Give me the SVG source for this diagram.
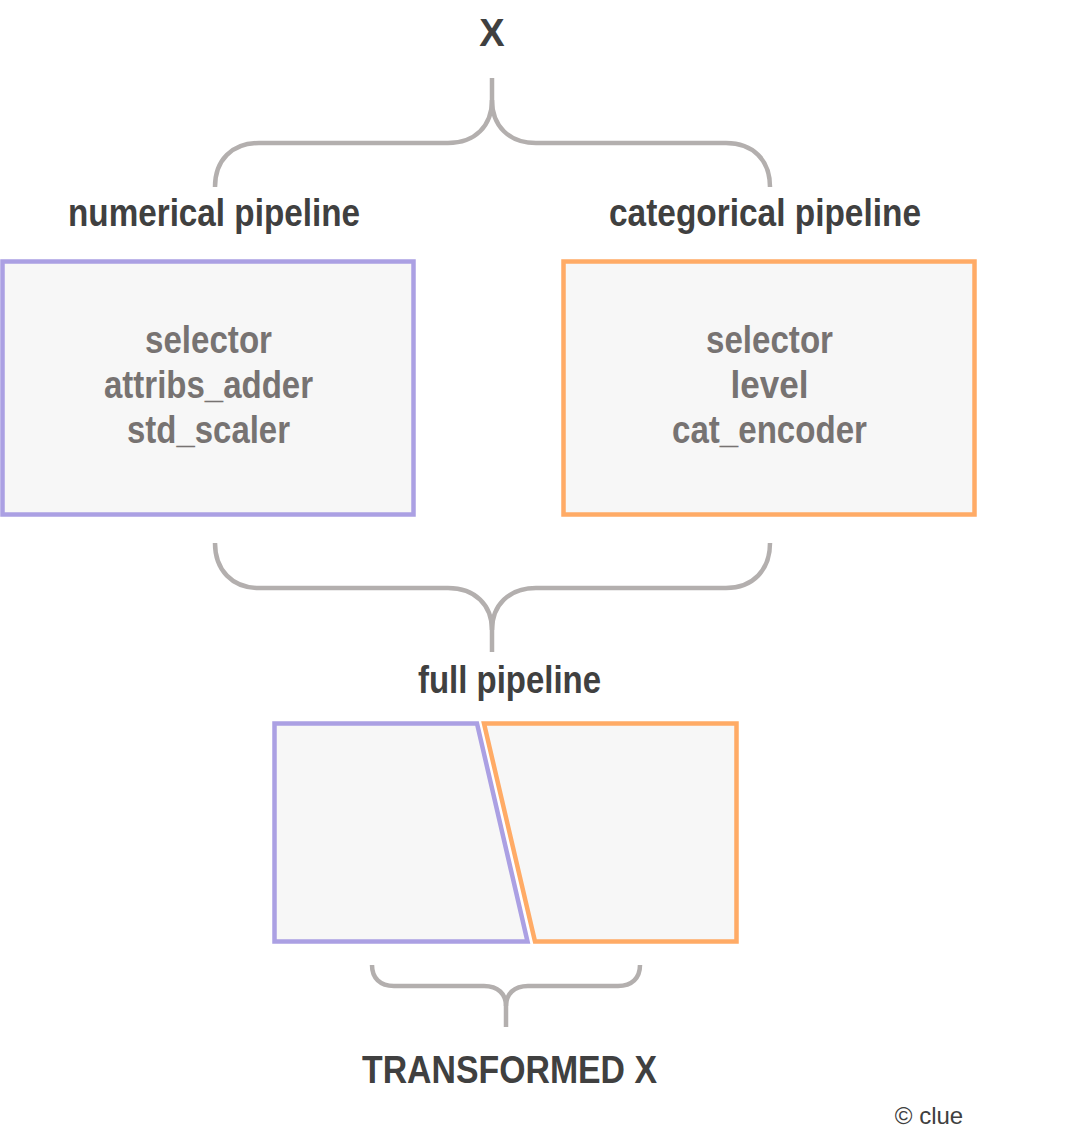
<svg xmlns="http://www.w3.org/2000/svg" width="1071" height="1146" viewBox="0 0 1071 1146">
<style>
.t{font-family:"Liberation Sans",Arial,sans-serif;font-weight:bold;font-size:38px;text-anchor:middle;fill:#404040}
.b{font-family:"Liberation Sans",Arial,sans-serif;font-weight:bold;font-size:38px;text-anchor:middle;fill:#777372}
.br{fill:none;stroke:#b3afae;stroke-width:4.5}
.box{fill:#f7f7f7;stroke-width:4.5}
.pu{stroke:#aba0e3}
.or{stroke:#ffab66}
</style>
<rect width="1071" height="1146" fill="#ffffff"/>
<g id="connectors">
<path class="br" d="M215,187 C215,160 232,143 259,143 H448 C475,143 492,126 492,100 V78"/>
<path class="br" d="M770,187 C770,160 753,143 726,143 H536 C509,143 492,126 492,100"/>
<path class="br" d="M215,543 C215,570 232,588 259,588 H448 C475,588 492,605 492,630 V652"/>
<path class="br" d="M770,543 C770,570 753,588 726,588 H536 C509,588 492,605 492,630"/>
<path class="br" d="M372,965 C372,978 380,986 394,986 H484 C498,986 506,994 506,1006 V1027"/>
<path class="br" d="M640,965 C640,978 632,986 618,986 H528 C514,986 506,994 506,1006"/>
</g>
<g id="x-label"><text class="t" x="492" y="46" textLength="25">X</text></g>
<g id="numerical-label"><text class="t" x="214" y="226" textLength="292" lengthAdjust="spacingAndGlyphs">numerical pipeline</text></g>
<g id="categorical-label"><text class="t" x="765" y="226" textLength="312" lengthAdjust="spacingAndGlyphs">categorical pipeline</text></g>
<g id="numerical-box">
<rect class="box pu" x="2.5" y="261.5" width="411" height="253"/>
<text class="b" x="208.5" y="353" textLength="127" lengthAdjust="spacingAndGlyphs">selector</text>
<text class="b" x="208.5" y="398" textLength="209" lengthAdjust="spacingAndGlyphs">attribs_adder</text>
<text class="b" x="208.5" y="443" textLength="163" lengthAdjust="spacingAndGlyphs">std_scaler</text>
</g>
<g id="categorical-box">
<rect class="box or" x="563.5" y="261.5" width="411" height="253"/>
<text class="b" x="769.5" y="353" textLength="127" lengthAdjust="spacingAndGlyphs">selector</text>
<text class="b" x="769.5" y="398" textLength="78" lengthAdjust="spacingAndGlyphs">level</text>
<text class="b" x="769.5" y="443" textLength="195" lengthAdjust="spacingAndGlyphs">cat_encoder</text>
</g>
<g id="full-label"><text class="t" x="509.5" y="693" textLength="183" lengthAdjust="spacingAndGlyphs">full pipeline</text></g>
<g id="full-left"><polygon class="box pu" points="274.5,723.5 477,723.5 527.5,941.5 274.5,941.5"/></g>
<g id="full-right"><polygon class="box or" points="484,723.5 736.5,723.5 736.5,941.5 535,941.5"/></g>
<g id="transformed-label"><text class="t" x="509.5" y="1083" textLength="295" lengthAdjust="spacingAndGlyphs">TRANSFORMED X</text></g>
<g id="credit"><text x="929" y="1124" font-family="Liberation Sans,Arial,sans-serif" font-size="24" fill="#404040" text-anchor="middle">© clue</text></g>
</svg>
